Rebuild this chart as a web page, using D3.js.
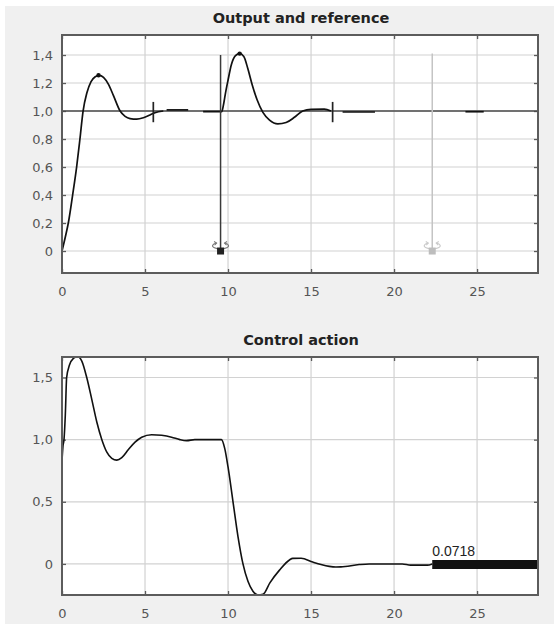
<!DOCTYPE html>
<html>
<head>
<meta charset="utf-8">
<script src="https://cdn.jsdelivr.net/npm/d3@7"></script>
<style>
  html, body { margin: 0; padding: 0; background: #fff; }
  svg { display: block; }
</style>
</head>
<body>
<svg id="chart" width="554" height="624"></svg>
<script>
// ---- data ----------------------------------------------------------------
const xTicks = [0, 5, 10, 15, 20, 25];
const xMax = 28.67;

// Output and reference
const outTicks = [0, 0.2, 0.4, 0.6, 0.8, 1.0, 1.2, 1.4];
const outRange = [-0.157, 1.543];
const referenceValue = 1.0;
const outputMain = [
  [0, 0], [0.2, 0.1], [0.38, 0.2], [0.64, 0.4], [0.88, 0.6], [1.08, 0.8],
  [1.27, 1.0], [1.5, 1.13], [1.75, 1.21], [2.0, 1.245], [2.25, 1.255],
  [2.5, 1.24], [2.8, 1.19], [3.1, 1.11], [3.5, 1.0], [3.8, 0.962],
  [4.1, 0.946], [4.5, 0.942], [4.9, 0.952], [5.3, 0.972], [5.6, 0.988],
  [6.1, 1.0]
];
const outputStep = [
  [8.5, 0.995], [9.62, 0.995], [9.72, 1.04], [9.85, 1.13], [10.0, 1.22],
  [10.2, 1.33], [10.45, 1.395], [10.7, 1.41], [10.95, 1.39], [11.2, 1.3],
  [11.45, 1.19], [11.75, 1.08], [12.1, 0.99], [12.5, 0.935], [13.0, 0.908],
  [13.5, 0.918], [14.0, 0.955], [14.5, 1.0], [15.0, 1.012], [15.8, 1.013],
  [16.2, 1.0]
];
const outputSettled = [
  [[6.3, 1.008], [7.6, 1.008]],
  [[16.9, 0.993], [18.85, 0.993]],
  [[24.3, 0.995], [25.4, 0.995]]
];
const tickMarks = [5.5, 16.3];          // short vertical markers on the output
const tickMarkSpan = [0.92, 1.065];
const stepMarkers = [                   // draggable step-time handles
  { t: 9.55, top: 1.4, active: true },
  { t: 22.3, top: 1.41, active: false }
];

// Control action
const ctrlTicks = [0, 0.5, 1.0, 1.5];
const ctrlRange = [-0.25, 1.665];
const control = [
  [0, 0.83], [0.06, 0.95], [0.12, 1.0], [0.2, 1.2], [0.28, 1.5], [0.45, 1.6],
  [0.7, 1.655], [0.95, 1.67], [1.2, 1.63], [1.49, 1.5], [1.8, 1.32],
  [2.1, 1.14], [2.4, 1.0], [2.7, 0.9], [3.0, 0.85], [3.3, 0.835],
  [3.6, 0.855], [4.0, 0.92], [4.4, 0.98], [4.8, 1.02], [5.4, 1.04],
  [6.0, 1.035], [6.6, 1.02], [7.1, 1.0], [7.5, 0.992], [8.0, 1.0],
  [9.0, 1.0], [9.6, 1.0], [9.8, 0.93], [10.0, 0.78], [10.3, 0.5],
  [10.6, 0.22], [10.9, 0.0], [11.2, -0.14], [11.5, -0.22], [11.8, -0.25],
  [12.1, -0.245], [12.53, -0.15], [13.1, -0.05], [13.7, 0.032],
  [13.9, 0.045], [14.4, 0.046], [15.1, 0.015], [15.6, -0.005],
  [16.1, -0.02], [16.5, -0.025], [16.8, -0.024], [17.9, -0.005],
  [18.5, 0.0], [20.5, 0.0], [21.0, -0.01], [22.0, -0.01], [22.3, 0.0]
];
const holdStart = 22.3;
const holdValue = -0.004;
const holdLabel = "0.0718";

// ---- layout --------------------------------------------------------------
const svg = d3.select("#chart");
svg.append("rect").attr("x", 5).attr("y", 6).attr("width", 549).attr("height", 618)
  .attr("fill", "#f0f0f0");

const left = 62, right = 538;
const x = d3.scaleLinear().domain([0, xMax]).range([left, right]);
// decimal comma, one decimal place except for zero
const fmt = v => v === 0 ? "0" : d3.format(".1f")(v).replace(".", ",");

function panel(cfg) {
  const y = d3.scaleLinear().domain(cfg.yDomain).range([cfg.bottom, cfg.top]);
  const g = svg.append("g");
  const id = "clip" + cfg.top;
  svg.append("clipPath").attr("id", id).append("rect")
    .attr("x", left).attr("y", cfg.top).attr("width", right - left).attr("height", cfg.bottom - cfg.top);

  g.append("rect").attr("x", left).attr("y", cfg.top)
    .attr("width", right - left).attr("height", cfg.bottom - cfg.top).attr("fill", "#fff");

  // grid
  g.append("g").selectAll("line").data(xTicks.filter(d => d > 0)).join("line")
    .attr("x1", d => x(d)).attr("x2", d => x(d)).attr("y1", cfg.top).attr("y2", cfg.bottom)
    .attr("stroke", "#d2d2d2").attr("stroke-width", 1.2);
  g.append("g").selectAll("line").data(cfg.yTicks).join("line")
    .attr("x1", left).attr("x2", right).attr("y1", d => y(d)).attr("y2", d => y(d))
    .attr("stroke", "#d2d2d2").attr("stroke-width", 1.2);

  // axes (inward ticks on all four sides)
  const axB = g.append("g").attr("transform", `translate(0,${cfg.bottom})`)
    .call(d3.axisBottom(x).tickValues(xTicks).tickSize(-4).tickPadding(14).tickFormat(d3.format("d")));
  const axT = g.append("g").attr("transform", `translate(0,${cfg.top})`)
    .call(d3.axisTop(x).tickValues(xTicks).tickSize(-4).tickFormat(""));
  const axL = g.append("g").attr("transform", `translate(${left},0)`)
    .call(d3.axisLeft(y).tickValues(cfg.yTicks).tickSize(-4).tickPadding(9).tickFormat(fmt));
  const axR = g.append("g").attr("transform", `translate(${right},0)`)
    .call(d3.axisRight(y).tickValues(cfg.yTicks).tickSize(-4).tickFormat(""));
  [axB, axT, axL, axR].forEach(a => {
    a.select(".domain").remove();
    a.selectAll(".tick line").attr("stroke", "#5a5a5a").attr("stroke-width", 1.3);
    a.selectAll(".tick text").attr("fill", "#555")
      .style("font-family", "'DejaVu Sans', Verdana, sans-serif").style("font-size", "13px");
  });

  // title
  svg.append("text").attr("x", (left + right) / 2 + 1).attr("y", cfg.top - 12)
    .attr("text-anchor", "middle").attr("fill", "#222")
    .style("font-family", "'DejaVu Sans', Verdana, sans-serif").style("font-weight", "bold")
    .style("font-size", "14.5px").text(cfg.title);

  const plot = svg.append("g").attr("clip-path", `url(#${id})`);
  return { y, plot, g };
}

function frame(top, bottom) {
  svg.append("rect").attr("x", left).attr("y", top).attr("width", right - left)
    .attr("height", bottom - top).attr("fill", "none")
    .attr("stroke", "#5c5c5c").attr("stroke-width", 2);
}

// ---- top panel: output and reference --------------------------------------
const P1 = panel({ top: 35, bottom: 273, yDomain: outRange, yTicks: outTicks, title: "Output and reference" });
const line1 = d3.line().x(d => x(d[0])).y(d => P1.y(d[1])).curve(d3.curveMonotoneX);

P1.plot.append("line").attr("x1", x(0)).attr("x2", x(xMax))
  .attr("y1", P1.y(referenceValue)).attr("y2", P1.y(referenceValue))
  .attr("stroke", "#4a4a4a").attr("stroke-width", 1.5);

[outputMain, outputStep, ...outputSettled].forEach(seg => {
  P1.plot.append("path").datum(seg).attr("d", line1)
    .attr("fill", "none").attr("stroke", "#111").attr("stroke-width", 1.7);
});

// peak dots
P1.plot.append("circle").attr("cx", x(2.2)).attr("cy", P1.y(1.255)).attr("r", 2.2).attr("fill", "#111");
P1.plot.append("circle").attr("cx", x(10.7)).attr("cy", P1.y(1.41)).attr("r", 2.2).attr("fill", "#111");

tickMarks.forEach(t => {
  P1.plot.append("line").attr("x1", x(t)).attr("x2", x(t))
    .attr("y1", P1.y(tickMarkSpan[0])).attr("y2", P1.y(tickMarkSpan[1]))
    .attr("stroke", "#222").attr("stroke-width", 1.7);
});

stepMarkers.forEach(m => {
  const c = m.active ? "#3a3a3a" : "#c4c4c4";
  const cx = x(m.t), cy = P1.y(0);
  P1.plot.append("line").attr("x1", cx).attr("x2", cx).attr("y1", P1.y(m.top)).attr("y2", cy)
    .attr("stroke", c).attr("stroke-width", 1.5);
  // rotating handle glyph: elliptical arc with arrowheads at both ends
  const hg = P1.plot.append("g").attr("fill", "none").attr("stroke", m.active ? "#777" : "#cacaca")
    .attr("stroke-width", 1.1);
  hg.append("path").attr("d", `M${cx - 4},${cy - 8} A8,3.2 0 1,0 ${cx + 4},${cy - 8}`);
  hg.append("path").attr("d", `M${cx - 6.5},${cy - 9.5} L${cx - 4},${cy - 8} L${cx - 6},${cy - 6}`);
  hg.append("path").attr("d", `M${cx + 6.5},${cy - 9.5} L${cx + 4},${cy - 8} L${cx + 6},${cy - 6}`);
  P1.plot.append("rect").attr("x", cx - 3.5).attr("y", cy - 3.5).attr("width", 7).attr("height", 7)
    .attr("fill", m.active ? "#222" : "#bdbdbd");
});
frame(35, 273);

// ---- bottom panel: control action -----------------------------------------
const P2 = panel({ top: 357, bottom: 595, yDomain: ctrlRange, yTicks: ctrlTicks, title: "Control action" });
const line2 = d3.line().x(d => x(d[0])).y(d => P2.y(d[1])).curve(d3.curveMonotoneX);

P2.plot.append("path").datum(control).attr("d", line2)
  .attr("fill", "none").attr("stroke", "#111").attr("stroke-width", 1.6);

P2.plot.append("line").attr("x1", x(holdStart)).attr("x2", x(xMax))
  .attr("y1", P2.y(holdValue)).attr("y2", P2.y(holdValue))
  .attr("stroke", "#111").attr("stroke-width", 9);

svg.append("text").attr("x", x(holdStart)).attr("y", 556)
  .attr("fill", "#222").style("font-family", "'Liberation Sans', Arial, sans-serif")
  .style("font-size", "14px").text(holdLabel);
frame(357, 595);
</script>
</body>
</html>
